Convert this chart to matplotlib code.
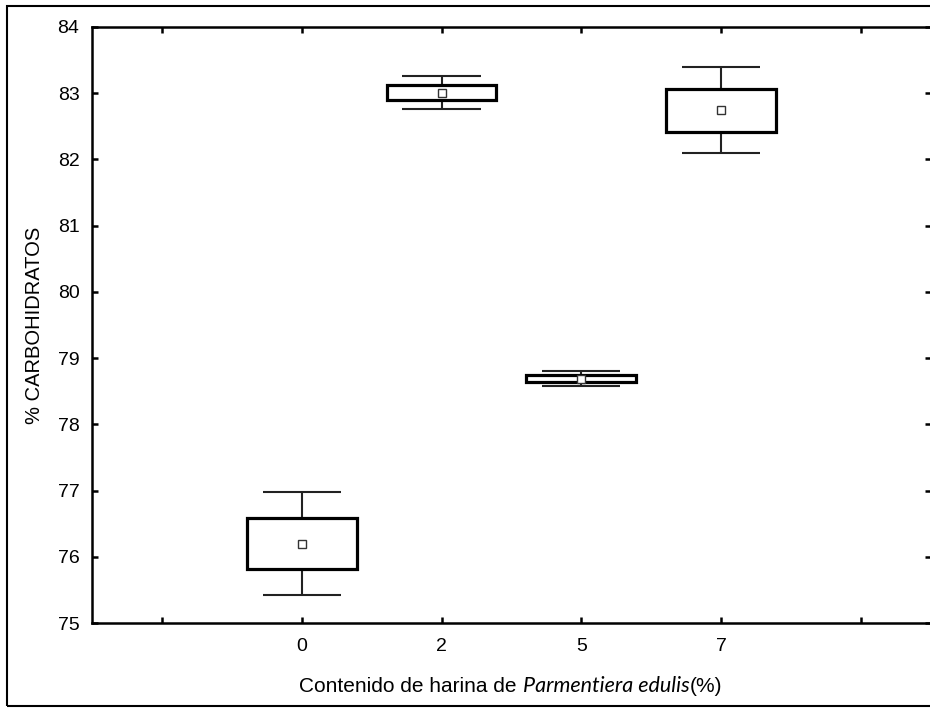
import numpy as np
import matplotlib
matplotlib.use('Agg')
from matplotlib import pyplot as plt
from matplotlib.patches import Rectangle
from matplotlib.offsetbox import TextArea, HPacker, AnchoredOffsetbox

# carbohydrate content per flour level: mean, standard error, standard deviation
levels = ['0', '2', '5', '7']
means = [76.20, 83.01, 78.69, 82.74]
std_err = [0.39, 0.12, 0.05, 0.32]
std_dev = [0.78, 0.245, 0.11, 0.65]

plt.rcParams['font.family'] = ['Liberation Sans', 'DejaVu Sans']

fig = plt.figure(figsize=(9.3, 7.08), dpi=100)
ax = fig.add_axes([0.0989, 0.12, 0.902, 0.8419])

pos = np.arange(1, len(levels) + 1)
m = np.array(means)
se = np.array(std_err)
sd = np.array(std_dev)
box_w = 0.786
cap_w = 0.28

# whiskers (mean +/- sd) and caps
ax.vlines(pos, m + se, m + sd, color='#222222', lw=1.5, zorder=2)
ax.vlines(pos, m - sd, m - se, color='#222222', lw=1.5, zorder=2)
ax.hlines(m + sd, pos - cap_w, pos + cap_w, color='#222222', lw=1.5, zorder=2)
ax.hlines(m - sd, pos - cap_w, pos + cap_w, color='#222222', lw=1.5, zorder=2)

# boxes (mean +/- se)
ax.bar(pos, 2 * se, bottom=m - se, width=box_w, facecolor='white',
       edgecolor='black', lw=2.3, zorder=3)

# mean markers
ax.plot(pos, m, ls='none', marker='s', ms=6, mfc='white', mec='#333333',
        mew=1.0, zorder=4)

ax.set_xlim(-0.5, 5.5)
ax.set_ylim(75, 84)
ax.set_xticks(np.arange(0, 6))
ax.set_xticklabels([''] + levels + [''])
ax.set_yticks(np.arange(75, 85))

ax.tick_params(direction='in', length=4, width=1.8, top=True, right=True,
               labelsize=14)
ax.tick_params(axis='x', pad=11)
ax.tick_params(axis='y', pad=9)
for s in ax.spines.values():
    s.set_linewidth(1.8)

ax.set_ylabel('% CARBOHIDRATOS', fontsize=14.5, labelpad=10)

# x label with italic species name
parts = [
    TextArea('Contenido de harina de ', textprops=dict(fontsize=15, family='Liberation Sans')),
    TextArea('Parmentiera edulis', textprops=dict(fontsize=15.5, family='Lato', style='italic')),
    TextArea('(%)', textprops=dict(fontsize=15, family='Liberation Sans')),
]
row = HPacker(children=parts, align='baseline', pad=0, sep=0)
anchored = AnchoredOffsetbox(loc='center', child=row, frameon=False, pad=0,
                             bbox_to_anchor=(0.549, 0.031),
                             bbox_transform=fig.transFigure, borderpad=0)
fig.add_artist(anchored)

# outer frame around the figure
fig.add_artist(Rectangle((0.0075, 0.003), 1.0, 0.9885, transform=fig.transFigure,
                         fill=False, edgecolor='black', lw=1.5))

fig.savefig('out.png', dpi=100)
